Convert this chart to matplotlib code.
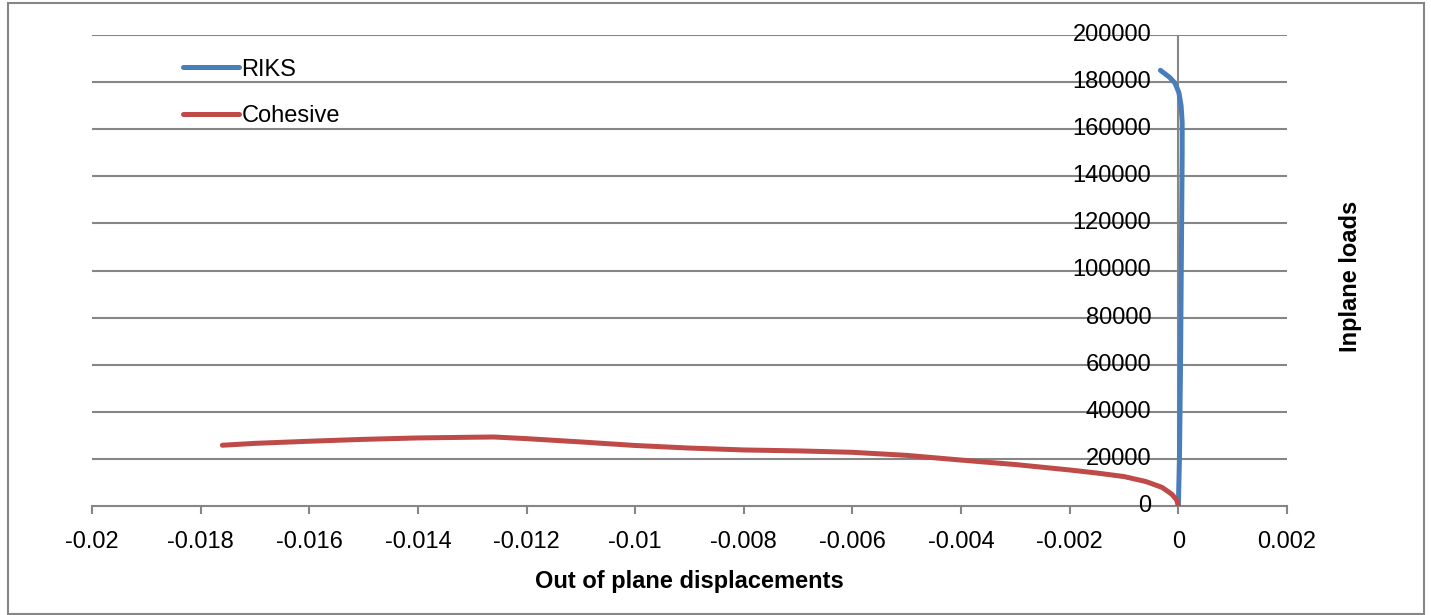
import matplotlib.pyplot as plt
from matplotlib.patches import Rectangle

# Chart data
riks_x = [0.0, 0.00002, 0.00004, 0.00006, 0.00007, 0.00007, 0.00005, 0.00001, -0.00006, -0.00016, -0.00033]
riks_y = [0, 20000, 60000, 120000, 150000, 163000, 170000, 175500, 179500, 182000, 185000]

coh_x = [-0.0176, -0.017, -0.016, -0.015, -0.014, -0.013, -0.0126, -0.012, -0.011, -0.010, -0.009,
         -0.008, -0.007, -0.006, -0.005, -0.004, -0.003, -0.002, -0.0015, -0.001, -0.0006,
         -0.0003, -0.00012, -0.00003, 0.0]
coh_y = [25800, 26600, 27500, 28300, 28900, 29200, 29300, 28600, 27200, 25700, 24600,
         23800, 23400, 22800, 21500, 19500, 17600, 15300, 14000, 12500, 10400,
         7900, 5000, 2500, 0]

x_ticks = [-0.02, -0.018, -0.016, -0.014, -0.012, -0.01, -0.008, -0.006, -0.004, -0.002, 0, 0.002]
x_tick_labels = ["-0.02", "-0.018", "-0.016", "-0.014", "-0.012", "-0.01", "-0.008",
                 "-0.006", "-0.004", "-0.002", "0", "0.002"]
y_ticks = list(range(0, 200001, 20000))

colors = {
    "riks": "#4a7ebb",
    "cohesive": "#be4b48",
    "grid": "#868686",
    "text": "#000000",
}
FS = 17

plt.rcParams['font.family'] = ['Liberation Sans', 'DejaVu Sans']

fig = plt.figure(figsize=(14.31, 6.15), dpi=100)
ax = fig.add_axes([92 / 1431, 1 - 506 / 615, (1287 - 92) / 1431, (506 - 35) / 615])

ax.plot(riks_x, riks_y, color=colors["riks"], lw=3.6, solid_capstyle="round",
        solid_joinstyle="round", label="RIKS", zorder=3)
ax.plot(coh_x, coh_y, color=colors["cohesive"], lw=3.6, solid_capstyle="round",
        solid_joinstyle="round", label="Cohesive", zorder=3)

ax.set_xlim(-0.02, 0.002)
ax.set_ylim(0, 200000)
ax.set_xticks(x_ticks)
ax.set_xticklabels(x_tick_labels)
ax.set_yticks(y_ticks)
ax.set_yticklabels([])

# horizontal gridlines, Excel style
for y in y_ticks[1:]:
    ax.axhline(y, color=colors["grid"], lw=1.5, zorder=1)

for s in ["top", "right", "left"]:
    ax.spines[s].set_visible(False)
ax.spines["bottom"].set_color(colors["grid"])
ax.spines["bottom"].set_linewidth(1.5)
# vertical axis crosses at x = 0
ax.axvline(0, color=colors["grid"], lw=1.5, zorder=2)

ax.tick_params(axis="x", direction="out", length=6, width=1.5, color=colors["grid"],
               labelsize=FS, pad=12)
ax.tick_params(axis="y", length=0)

# y labels sit just left of the x = 0 axis
for y in y_ticks:
    ax.text(-0.0005, y, f"{y}", ha="right", va="center", fontsize=FS, color=colors["text"])

ax.set_xlabel("Out of plane displacements", fontsize=FS, fontweight="bold", labelpad=12)
fig.text(1350 / 1431, 0.55, "Inplane loads", rotation=90, ha="center", va="center",
         fontsize=FS, fontweight="bold")

ax.legend(loc="upper left", bbox_to_anchor=(0.058, 0.995), frameon=False, fontsize=FS,
          handlelength=2.4, handletextpad=0.1, labelspacing=1.05)

fig.patches.append(Rectangle((8 / 1431, 1 / 615), (1424 - 8) / 1431, (612 - 1) / 615,
                             transform=fig.transFigure, fill=False, edgecolor=colors["grid"],
                             lw=1.5))

fig.savefig("out.png", dpi=100)
